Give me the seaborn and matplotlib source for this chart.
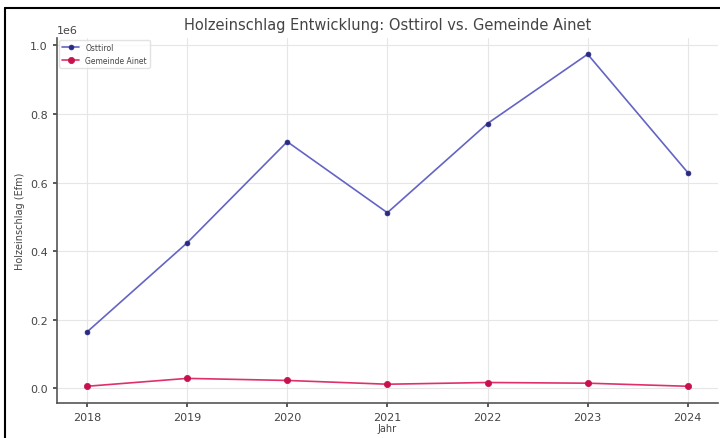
import pandas as pd
import matplotlib
matplotlib.use("Agg")
import matplotlib.pyplot as plt
from matplotlib.lines import Line2D
import seaborn as sns

# Daten
jahre = [2018, 2019, 2020, 2021, 2022, 2023, 2024]
osttirol = [164000, 424000, 719000, 512000, 772000, 974000, 629000]
ainet = [6000, 29000, 23000, 12000, 17000, 15000, 6000]


def main():
    sns.set_theme(style="ticks")
    plt.rcParams['font.family'] = ['DejaVu Sans']

    df = pd.DataFrame({
        'Jahr': jahre * 2,
        'Wert': osttirol + ainet,
        'Region': ['Osttirol'] * len(jahre) + ['Gemeinde Ainet'] * len(jahre),
    })

    fig = plt.figure(figsize=(7.2, 4.39), dpi=100)
    ax = fig.add_axes([0.079, 0.08, 0.918, 0.832])

    farben = {'Osttirol': '#6464c4', 'Gemeinde Ainet': '#e0306c'}
    marker_farben = {'Osttirol': '#2a2a82', 'Gemeinde Ainet': '#c8104c'}

    for region, gruppe in df.groupby('Region', sort=False):
        sns.lineplot(data=gruppe, x='Jahr', y='Wert', ax=ax, color=farben[region],
                     marker='o', markersize=3.5 if region == 'Osttirol' else 4.5,
                     markerfacecolor=marker_farben[region],
                     markeredgecolor=marker_farben[region], markeredgewidth=0.5,
                     linewidth=1.2, label=region)

    ax.set_xticks(jahre)
    ax.grid(True, color='#e6e6e6', linewidth=0.8)
    sns.despine(ax=ax)
    for s in ['left', 'bottom']:
        ax.spines[s].set_color('#555555')
        ax.spines[s].set_linewidth(1.2)
    ax.tick_params(labelsize=8, colors='#444444', length=3)
    ax.yaxis.get_offset_text().set_fontsize(8)
    ax.yaxis.get_offset_text().set_color('#444444')

    ax.set_title('Holzeinschlag Entwicklung: Osttirol vs. Gemeinde Ainet',
                 fontsize=10.5, color='#444444', pad=6)
    ax.set_xlabel('Jahr', fontsize=7, color='#444444', labelpad=1)
    ax.set_ylabel('Holzeinschlag (Efm)', fontsize=7, color='#444444')

    leg = ax.legend(loc='upper left', fontsize=5.5, frameon=True,
                    borderaxespad=0.3, handlelength=2.2)
    leg.get_frame().set_edgecolor('#dddddd')
    for t in leg.get_texts():
        t.set_color('#444444')

    # schwarzer Rahmen des Screenshots (links und oben)
    fig.add_artist(Line2D([0.007, 0.007], [0.0, 0.979], color='black', linewidth=1.5))
    fig.add_artist(Line2D([0.007, 1.0], [0.979, 0.979], color='black', linewidth=1.5))

    fig.savefig('out.png', dpi=100)
    plt.close(fig)


if __name__ == "__main__":
    main()
